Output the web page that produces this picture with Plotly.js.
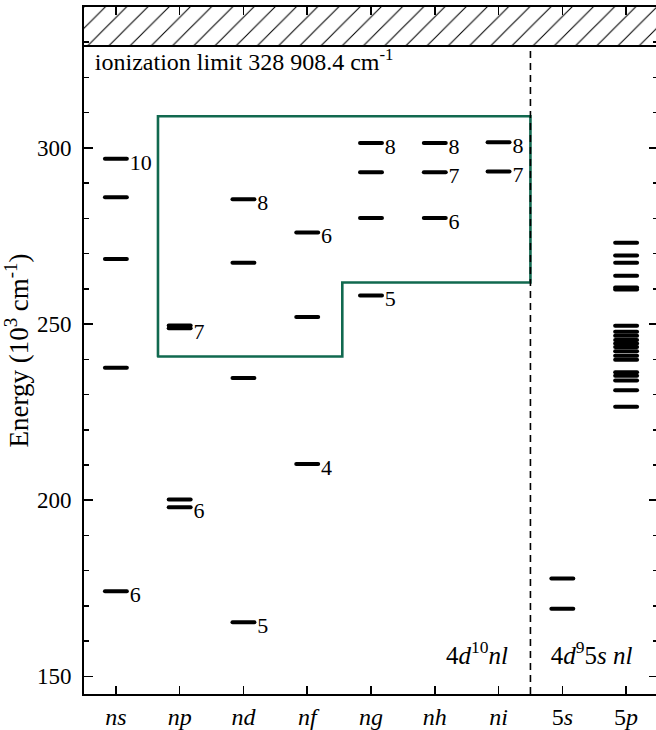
<!DOCTYPE html>
<html><head><meta charset="utf-8">
<script src="https://cdn.plot.ly/plotly-3.0.1.min.js"></script>
<style>
html,body{margin:0;padding:0;overflow:hidden;background:#fff;}
#chart{width:660px;height:730px;}
.scatterlayer .js-line{stroke-linecap:round;}
</style></head>
<body><div id="chart"></div>
<script>
// ---- data ----
const categories = ['ns','np','nd','nf','ng','nh','ni','5s','5p'];
const tickLabels = ['<i>ns</i>','<i>np</i>','<i>nd</i>','<i>nf</i>','<i>ng</i>','<i>nh</i>','<i>ni</i>','5<i>s</i>','5<i>p</i>'];
const levelsNs = [174.2, 237.6, 268.5, 286.0, 296.9];
const levelsNp = [198.0, 200.2, 248.8, 249.6];
const levelsNd = [165.4, 234.7, 267.4, 285.4];
const levelsNf = [210.3, 252.0, 276.0];
const levelsNg = [258.1, 280.1, 293.1, 301.4];
const levelsNh = [280.1, 293.1, 301.4];
const levelsNi = [293.3, 301.6];
const levels5s = [169.2, 177.8];
const levels5p = [226.5, 231.2, 234.0, 235.3, 236.3, 239.9, 241.0, 242.3, 243.5, 244.5, 245.5, 246.7, 247.8, 249.5, 259.8, 260.4, 263.7, 267.4, 269.5, 273.1];
const labelColumn = ['ns','ns','np','np','nd','nd','nf','nf','ng','ng','nh','nh','nh','ni','ni'];
const labelEnergy = [174.2, 296.9, 198.0, 248.8, 165.4, 285.4, 210.3, 276.0, 258.1, 301.4, 280.1, 293.1, 301.4, 293.3, 301.6];
const labelText = ['6','10','6','7','5','8','4','6','5','8','6','7','8','7','8'];
const ionizationLimit = 328.9084; // 10^3 cm^-1
const boxX = [0.66, 0.66, 6.5, 6.5, 3.55, 3.55, 0.66];
const boxY = [240.8, 309.0, 309.0, 261.8, 261.8, 240.8, 240.8];
const yTicks = [150, 200, 250, 300];
const configText = ['4<i>d</i><sup>10</sup><i>nl</i>', '4<i>d</i><sup>9</sup>5<i>s nl</i>'];

// ---- build ----
const levelSets = [levelsNs, levelsNp, levelsNd, levelsNf, levelsNg, levelsNh, levelsNi, levels5s, levels5p];
const half = 0.172;
const labelGap = 0.045;
const xRange = [-0.5, 8.5];
const yRange = [145, 340];
const lx = [], ly = [];
levelSets.forEach((set, i) => {
  set.forEach(e => { lx.push(i - half, i + half, null); ly.push(e, e, null); });
});
const serif = 'Liberation Serif, Times New Roman, serif';
const limStr = (ionizationLimit * 1000).toFixed(1);

const traces = [
  { // hatched region above ionization limit
    x: [xRange[0], xRange[1], xRange[1], xRange[0], xRange[0]],
    y: [ionizationLimit, ionizationLimit, yRange[1], yRange[1], ionizationLimit],
    mode: 'lines', fill: 'toself', line: {width: 0, color: '#000'},
    fillcolor: '#fff',
    fillpattern: {shape: '/', size: 15, solidity: 0.07, fgcolor: '#000', bgcolor: '#fff'},
    hoverinfo: 'skip'
  },
  { // green box
    x: boxX, y: boxY, mode: 'lines',
    line: {color: '#11694f', width: 2.6}, hoverinfo: 'skip'
  },
  { // levels
    x: lx, y: ly, mode: 'lines', connectgaps: false,
    line: {color: '#000', width: 4}, hoverinfo: 'skip'
  },
  { // level labels
    x: labelColumn.map(c => categories.indexOf(c) + half + labelGap),
    y: labelEnergy.map(e => e - 1.5),
    text: labelText, mode: 'text', textposition: 'middle right',
    textfont: {family: serif, size: 22, color: '#000'}, cliponaxis: false, hoverinfo: 'skip'
  },
  { // ionization limit label
    x: [-0.33], y: [323.9],
    text: ['ionization limit ' + limStr.slice(0, 3) + ' ' + limStr.slice(3) + ' cm<sup>-1</sup>'],
    mode: 'text', textposition: 'middle right',
    textfont: {family: serif, size: 24, color: '#000'}, cliponaxis: false, hoverinfo: 'skip'
  },
  { // configuration labels
    x: [5.66, 7.46], y: [155.3, 155.3], text: configText,
    mode: 'text', textposition: 'middle center',
    textfont: {family: serif, size: 25, color: '#000'}, cliponaxis: false, hoverinfo: 'skip'
  }
];

const layout = {
  width: 660, height: 730,
  margin: {l: 84, r: 2, t: 7, b: 36},
  paper_bgcolor: '#fff', plot_bgcolor: '#fff',
  showlegend: false,
  font: {family: serif, size: 22, color: '#000'},
  xaxis: {
    range: xRange, tickvals: categories.map((c, i) => i), ticktext: tickLabels,
    ticks: 'inside', ticklen: 8, tickwidth: 1.5, tickcolor: '#000',
    showline: true, linewidth: 2, linecolor: '#000', mirror: 'allticks',
    showgrid: false, zeroline: false, tickfont: {family: serif, size: 24}
  },
  yaxis: {
    range: yRange, tickvals: yTicks,
    ticks: 'inside', ticklen: 9, tickwidth: 1.5, tickcolor: '#000',
    showline: true, linewidth: 2, linecolor: '#000', mirror: 'allticks',
    showgrid: false, zeroline: false, tickfont: {family: serif, size: 23}, ticklabelstandoff: 6,
    minor: {dtick: 10, tick0: 0, ticks: 'inside', ticklen: 5, tickwidth: 1.5, tickcolor: '#000', showgrid: false},
    title: {text: 'Energy (10<sup>3</sup> cm<sup>-1</sup>)', font: {family: serif, size: 27}, standoff: 0}
  },
  shapes: [
    {type: 'line', xref: 'paper', yref: 'y', x0: 0, x1: 1, y0: ionizationLimit, y1: ionizationLimit,
     line: {color: '#000', width: 2}, layer: 'above'},
    {type: 'line', xref: 'x', yref: 'y', x0: 6.5, x1: 6.5, y0: yRange[0], y1: ionizationLimit,
     line: {color: '#000', width: 1.6, dash: '7px,5px'}, layer: 'above'}
  ]
};

Plotly.newPlot('chart', traces, layout, {displayModeBar: false, staticPlot: true});
</script>
</body></html>
